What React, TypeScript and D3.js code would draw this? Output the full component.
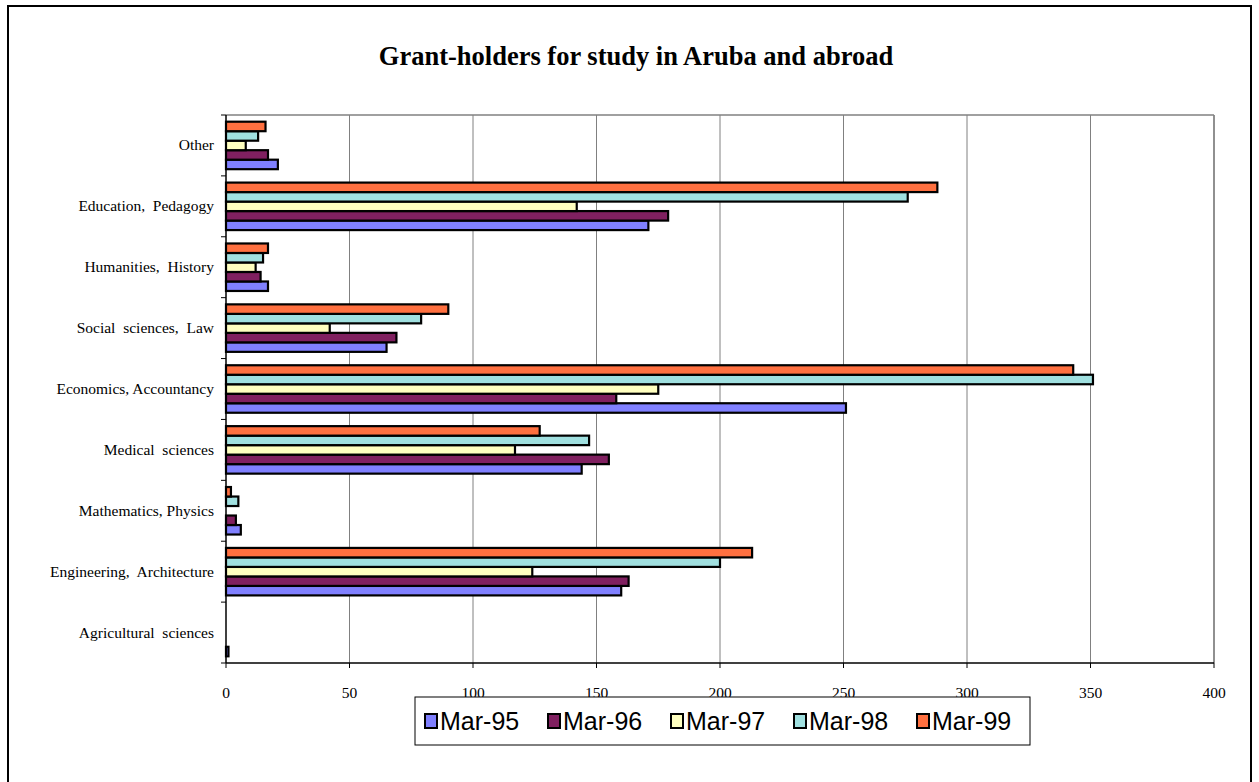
import React from "react";
import * as d3 from "d3";

const categories = [
  "Other",
  "Education,  Pedagogy",
  "Humanities,  History",
  "Social  sciences,  Law",
  "Economics, Accountancy",
  "Medical  sciences",
  "Mathematics, Physics",
  "Engineering,  Architecture",
  "Agricultural  sciences",
];
const seriesNames = ["Mar-95", "Mar-96", "Mar-97", "Mar-98", "Mar-99"];
const seriesColors = ["#8080FF", "#802060", "#FFFFC0", "#A0E0E0", "#FF7040"];
const mar95 = [21, 171, 17, 65, 251, 144, 6, 160, 1];
const mar96 = [17, 179, 14, 69, 158, 155, 4, 163, 0];
const mar97 = [8, 142, 12, 42, 175, 117, 0, 124, 0];
const mar98 = [13, 276, 15, 79, 351, 147, 5, 200, 0];
const mar99 = [16, 288, 17, 90, 343, 127, 2, 213, 0];
const seriesValues = [mar95, mar96, mar97, mar98, mar99];
const xTicks = [0, 50, 100, 150, 200, 250, 300, 350, 400];

const W = 1259;
const H = 782;
const plot = { left: 226, right: 1214, top: 115, bottom: 663 };

export default function App() {
  const x = d3.scaleLinear().domain([0, 400]).range([plot.left, plot.right]);
  const y = d3
    .scaleBand<string>()
    .domain(categories)
    .range([plot.top, plot.bottom])
    .paddingInner(0.22)
    .paddingOuter(0.11);
  const inner = d3
    .scaleBand<string>()
    .domain([...seriesNames].reverse())
    .range([0, y.bandwidth()]);
  const boundaries = d3.range(categories.length + 1).map(
    (i) => plot.top + (i * (plot.bottom - plot.top)) / categories.length
  );

  const legend = { x: 415, y: 697, w: 615, h: 48 };
  const entryW = 123;

  return (
    <svg
      width={W}
      height={H}
      style={{ position: "absolute", left: 0, top: 0, background: "#fff" }}
    >
      <rect x={8} y={6} width={1243} height={800} fill="#fff" stroke="#000" strokeWidth={2} />
      <text
        x={636}
        y={65}
        textAnchor="middle"
        fontFamily="'Liberation Serif', 'Times New Roman', serif"
        fontWeight="bold"
        fontSize={26.5}
      >
        Grant-holders for study in Aruba and abroad
      </text>

      {/* gridlines */}
      {xTicks.slice(1).map((t) => (
        <line
          key={"g" + t}
          x1={x(t)}
          x2={x(t)}
          y1={plot.top}
          y2={plot.bottom}
          stroke="#808080"
          strokeWidth={1}
        />
      ))}
      <line x1={plot.left} x2={plot.right} y1={plot.top} y2={plot.top} stroke="#808080" strokeWidth={1.5} />
      <line x1={plot.right} x2={plot.right} y1={plot.top} y2={plot.bottom} stroke="#808080" strokeWidth={1.5} />

      {/* bars */}
      {categories.map((c, ci) =>
        seriesNames.map((s, si) => {
          const v = seriesValues[si][ci];
          if (v <= 0) return null;
          return (
            <rect
              key={c + s}
              x={x(0)}
              y={(y(c) as number) + (inner(s) as number)}
              width={x(v) - x(0)}
              height={inner.bandwidth()}
              fill={seriesColors[si]}
              stroke="#000"
              strokeWidth={2.2}
            />
          );
        })
      )}

      {/* axes */}
      <line x1={plot.left} x2={plot.left} y1={plot.top} y2={plot.bottom} stroke="#000" strokeWidth={1.5} />
      <line x1={plot.left} x2={plot.right} y1={plot.bottom} y2={plot.bottom} stroke="#000" strokeWidth={1.5} />
      {boundaries.map((b, i) => (
        <line key={"yt" + i} x1={plot.left - 5} x2={plot.left} y1={b} y2={b} stroke="#000" strokeWidth={1} />
      ))}
      {xTicks.map((t) => (
        <g key={"xt" + t}>
          <line x1={x(t)} x2={x(t)} y1={plot.bottom} y2={plot.bottom + 5} stroke="#000" strokeWidth={1} />
          <text
            x={x(t)}
            y={698}
            textAnchor="middle"
            fontFamily="'Liberation Serif', 'Times New Roman', serif"
            fontSize={15.5}
          >
            {t}
          </text>
        </g>
      ))}
      {categories.map((c) => (
        <text
          key={"cl" + c}
          x={214}
          y={(y(c) as number) + y.bandwidth() / 2 + 5}
          textAnchor="end"
          fontFamily="'Liberation Serif', 'Times New Roman', serif"
          fontSize={15.5}
          style={{ whiteSpace: "pre" }}
        >
          {c}
        </text>
      ))}

      {/* legend */}
      <rect x={legend.x} y={legend.y} width={legend.w} height={legend.h} fill="#fff" stroke="#000" strokeWidth={1} />
      {seriesNames.map((s, i) => (
        <g key={"lg" + s} transform={`translate(${legend.x + 10 + i * entryW},${legend.y + legend.h / 2})`}>
          <rect x={0} y={-7} width={12} height={14} fill={seriesColors[i]} stroke="#000" strokeWidth={2} />
          <text
            x={15}
            y={9}
            fontFamily="'Liberation Sans', Arial, sans-serif"
            fontSize={25}
          >
            {s}
          </text>
        </g>
      ))}
    </svg>
  );
}
